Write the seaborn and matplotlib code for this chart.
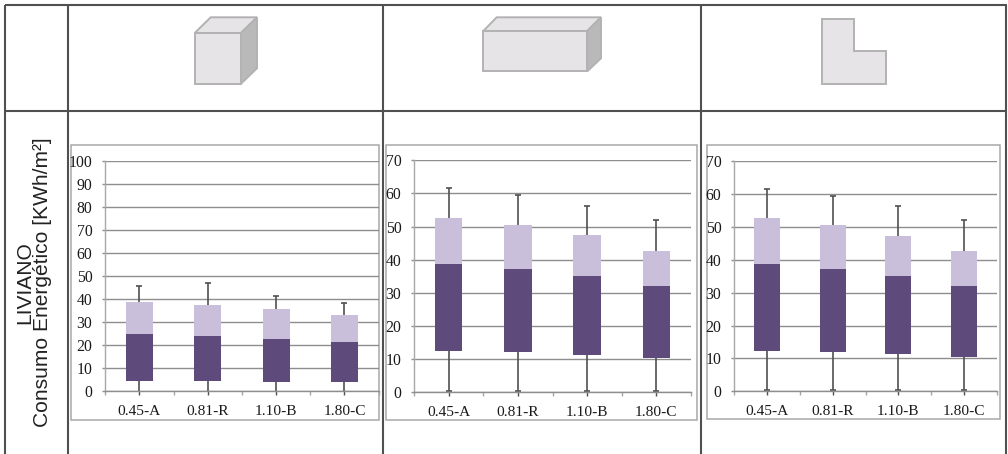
import numpy as np
import pandas as pd
import matplotlib
matplotlib.use("Agg")
import matplotlib.pyplot as plt
from matplotlib.patches import Polygon, Rectangle
from matplotlib.lines import Line2D
import seaborn as sns

W, H = 1008, 454

categories = ["0.45-A", "0.81-R", "1.10-B", "1.80-C"]

low_a = [0.0, 0.0, 0.0, 0.0]
q1_a = [4.3, 4.3, 4.2, 4.2]
med_a = [25.0, 24.0, 22.8, 21.3]
q3_a = [39.0, 37.5, 35.8, 33.3]
high_a = [46.0, 47.2, 41.5, 38.2]

low_b = [0.3, 0.3, 0.3, 0.4]
q1_b = [12.3, 12.0, 11.3, 10.3]
med_b = [38.6, 37.2, 35.0, 32.0]
q3_b = [52.6, 50.6, 47.3, 42.6]
high_b = [61.5, 59.5, 56.3, 52.0]

low_c = [0.3, 0.3, 0.3, 0.4]
q1_c = [12.3, 12.0, 11.3, 10.3]
med_c = [38.6, 37.2, 35.0, 32.0]
q3_c = [52.6, 50.6, 47.3, 42.6]
high_c = [61.5, 59.5, 56.3, 52.0]

DARK = "#5F4B7B"
LIGHT = "#C9BFDB"
GRID = "#8E8E8E"
FRAME = "#A8A8A8"
TABLE = "#505050"
WHISK = "#505050"
FACE = "#E6E4E6"
SIDE = "#B9B9B9"
EDGE = "#B2B2B2"
SERIF = "Liberation Serif"

sns.set_theme(style="white")
plt.rcParams["font.family"] = [SERIF, "DejaVu Serif"]

fig = plt.figure(figsize=(W / 100, H / 100), dpi=100, facecolor="white")

bg = fig.add_axes([0, 0, 1, 1], zorder=0)
bg.set_xlim(0, W)
bg.set_ylim(H, 0)
bg.axis("off")


def tline(x0, y0, x1, y1, lw=1.5):
    bg.add_line(Line2D([x0, x1], [y0, y1], color=TABLE, lw=lw, solid_capstyle="butt"))


tline(5, 5, 1006.5, 5)
tline(5, 110.5, 1006.5, 110.5)
tline(5, 5, 5, H)
tline(1006.3, 5, 1006.3, H)
for xv in (67.5, 382.7, 700.7):
    tline(xv, 5, xv, H)


def poly(pts, face):
    bg.add_patch(Polygon(pts, closed=True, facecolor=face, edgecolor=EDGE, lw=1.4, joinstyle="miter"))


def block(x0, x1, y0, y1, bx0, bx1, by0, by1):
    poly([(x0, y0), (bx0, by0), (bx1, by0), (x1, y0)], FACE)
    poly([(x1, y0), (bx1, by0), (bx1, by1), (x1, y1)], SIDE)
    poly([(x0, y0), (x1, y0), (x1, y1), (x0, y1)], FACE)


block(194.7, 241, 33, 83.7, 210.7, 257, 17.3, 68.3)
block(483.3, 587.3, 31, 71.3, 496.7, 601, 17.3, 58.3)
poly([(821.7, 19.3), (854, 19.3), (854, 51.3), (885.7, 51.3), (885.7, 83.7), (821.7, 83.7)], FACE)

bg.text(25, 283, "LIVIANO", rotation=90, ha="center", va="center",
        family="Liberation Sans", fontsize=15.1, color="#222222")
bg.text(43, 282, "Consumo Energético [KWh/m²]", rotation=90, ha="center", va="center",
        family="Liberation Sans", fontsize=15.1, color="#222222")

panels = [
    dict(low=low_a, q1=q1_a, med=med_a, q3=q3_a, high=high_a, ymax=100, step=10,
         frame=(71.3, 379.3, 144.7, 420), plot=(105.3, 378.6, 161.3, 391.3), cap=False),
    dict(low=low_b, q1=q1_b, med=med_b, q3=q3_b, high=high_b, ymax=70, step=10,
         frame=(386.3, 697.3, 145.3, 420), plot=(414.3, 690.7, 160.3, 392), cap=True),
    dict(low=low_c, q1=q1_c, med=med_c, q3=q3_c, high=high_c, ymax=70, step=10,
         frame=(706.7, 1000.3, 144.7, 419.3), plot=(734.3, 996.7, 161.3, 391.3), cap=True),
]

for p in panels:
    fx0, fx1, fy0, fy1 = p["frame"]
    bg.add_patch(Rectangle((fx0, fy0), fx1 - fx0, fy1 - fy0, fc="white", ec=FRAME, lw=1.1))

    px0, px1, py0, py1 = p["plot"]
    ax = fig.add_axes([px0 / W, 1 - py1 / H, (px1 - px0) / W, (py1 - py0) / H], zorder=2)
    ax.patch.set_alpha(0)

    df = pd.DataFrame({"cat": categories, "q1": p["q1"], "med": p["med"], "q3": p["q3"],
                       "low": p["low"], "high": p["high"]})
    df["lower"] = df["med"] - df["q1"]
    df["upper"] = df["q3"] - df["med"]

    sns.barplot(data=df, x="cat", y="lower", bottom=df["q1"].to_numpy(), color=DARK, width=0.395,
                saturation=1, ax=ax, linewidth=0, zorder=3)
    sns.barplot(data=df, x="cat", y="upper", bottom=df["med"].to_numpy(), color=LIGHT, width=0.395,
                saturation=1, ax=ax, linewidth=0, zorder=3)

    xs = np.arange(len(categories))
    ax.vlines(xs, df["q3"], df["high"], color=WHISK, lw=1.2, zorder=2)
    ax.vlines(xs, df["low"], df["q1"], color=WHISK, lw=1.2, zorder=2)
    ax.plot(xs, df["high"], ls="none", marker="_", ms=5, mew=1.2, color=WHISK, zorder=2)
    if p["cap"]:
        ax.plot(xs, df["low"], ls="none", marker="_", ms=5, mew=1.2, color=WHISK, zorder=2, clip_on=False)

    ax.set_xlim(-0.5, 3.5)
    ax.set_ylim(0, p["ymax"])
    ax.set_yticks(np.arange(0, p["ymax"] + 1, p["step"]))
    ax.set_xticks(xs)
    ax.set_xticklabels(categories)
    ax.set_xticks(np.arange(-0.5, 4, 1), minor=True)
    ax.set_xlabel("")
    ax.set_ylabel("")
    ax.set_axisbelow(True)
    ax.grid(axis="y", color=GRID, lw=1.0)
    ax.grid(axis="x", visible=False)
    sns.despine(ax=ax, top=True, right=True)
    for s in ("left", "bottom"):
        ax.spines[s].set_color(GRID)
        ax.spines[s].set_linewidth(1.0)
    ax.spines["left"].set_color(FRAME)
    ax.tick_params(axis="y", length=2.5, width=1, color=GRID, pad=6.8, labelsize=11.3, labelcolor="#1a1a1a", left=True)
    ax.tick_params(axis="x", which="major", length=3, width=1, color=WHISK, pad=7.2, labelsize=11.1, labelcolor="#1a1a1a", bottom=True)
    ax.tick_params(axis="x", which="minor", length=3, width=1, color=FRAME, bottom=True)

fig.savefig("out.png", dpi=100)
